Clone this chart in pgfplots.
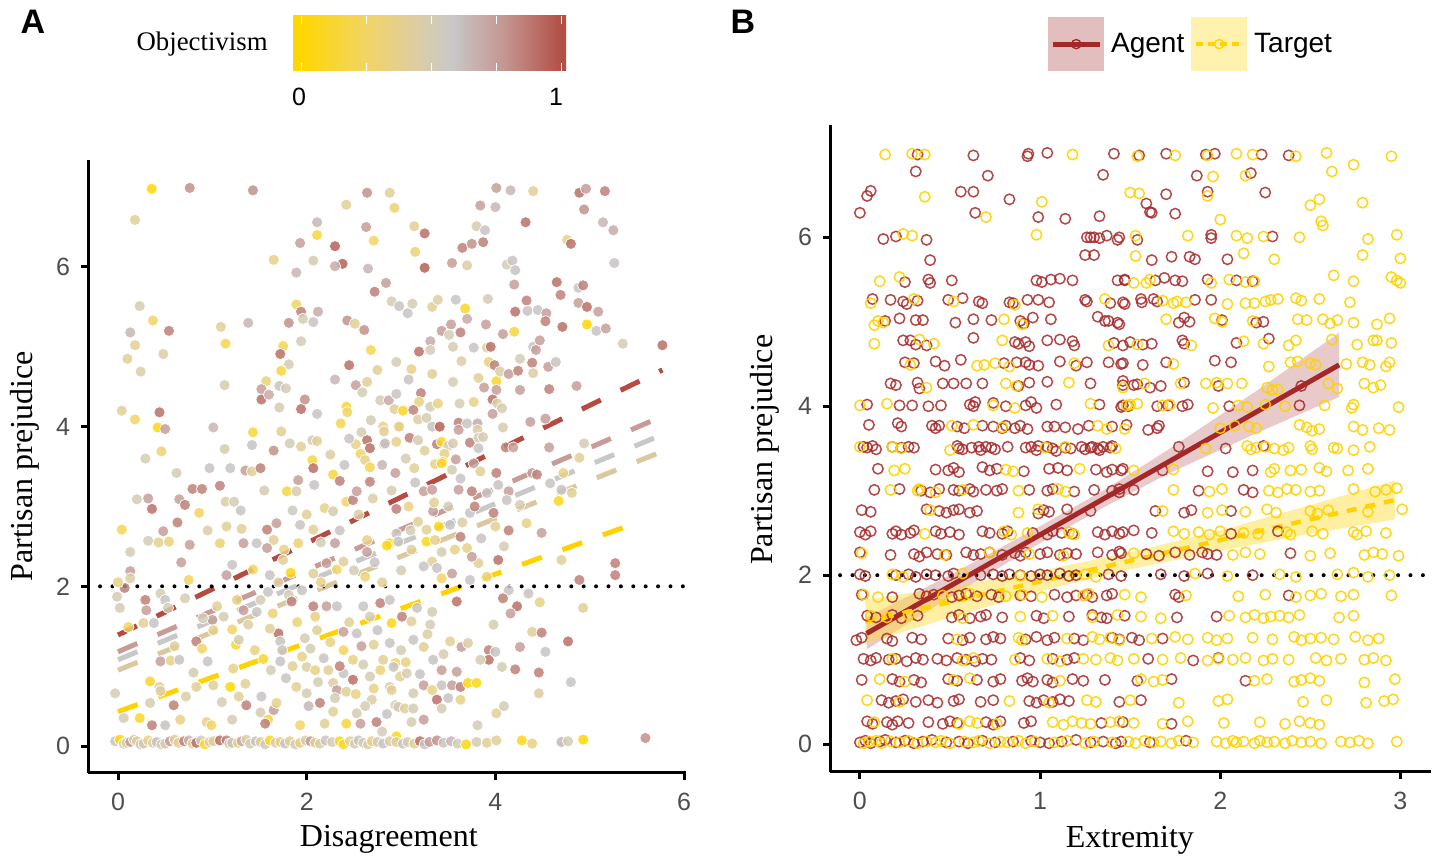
\documentclass[border=0pt]{standalone}
\usepackage{fontspec}
\setmainfont{Liberation Serif}
\setsansfont{Liberation Sans}
\usepackage{pgfplots}
\usepackage{pgfplotstable}
\pgfplotsset{compat=1.18}

\definecolor{tickgray}{RGB}{77,77,77}
\definecolor{cb0}{RGB}{255,215,0}
\definecolor{cb1}{RGB}{242,212,100}
\definecolor{cb2}{RGB}{220,205,165}
\definecolor{cb3}{RGB}{200,200,200}
\definecolor{cb4}{RGB}{196,150,145}
\definecolor{cb5}{RGB}{178,80,70}
\definecolor{agent}{RGB}{165,40,40}
\definecolor{target}{RGB}{255,210,0}
\definecolor{agentbox}{RGB}{226,190,190}
\definecolor{targetbox}{RGB}{255,242,175}
\definecolor{lred}{RGB}{181,75,65}
\definecolor{lpink}{RGB}{200,155,150}
\definecolor{lgray}{RGB}{200,200,200}
\definecolor{ltan}{RGB}{218,200,160}
\definecolor{lgold}{RGB}{255,210,0}

\pgfplotsset{
  colormap={obj}{rgb255(0cm)=(255,215,0) rgb255(25cm)=(242,212,100) rgb255(45cm)=(220,205,165) rgb255(58cm)=(200,200,200) rgb255(78cm)=(196,150,145) rgb255(100cm)=(178,80,70)},
  panel/.style={
    scale only axis,
    axis lines*=left,
    axis line style={line width=1.5pt,-},
    tick align=outside,
    major tick length=3.5pt,
    tick style={line width=1.5pt,black},
    tick label style={font=\sffamily\fontsize{12.5}{14}\selectfont,text=tickgray},
    xticklabel style={yshift=-3pt},
    yticklabel style={xshift=-2pt},
    /pgf/number format/assume math mode=true,
    label style={font=\fontsize{16}{18}\selectfont},
    clip=false,
  },
}

% panel A: disagreement, prejudice, objectivism
\pgfplotstableread{
x y c
0.357 6.98 0.0
0.76 6.99 0.8
1.43 6.96 0.8
2.64 6.93 0.8
2.88 6.93 0.4
2.42 6.78 0.4
2.93 6.74 0.3
0.18 6.59 0.4
2.11 6.56 0.65
2.11 6.40 0.15
2.63 6.50 0.75
2.71 6.33 0.25
1.93 6.30 0.75
2.30 6.26 0.95
2.38 6.04 0.95
2.30 6.01 0.7
1.65 6.09 0.35
2.07 6.08 0.5
1.89 5.93 0.65
2.65 5.98 0.65
2.84 5.80 0.75
2.72 5.69 0.85
2.90 5.57 0.5
0.23 5.51 0.5
0.37 5.33 0.25
0.54 5.20 0.85
0.13 5.18 0.65
0.18 5.02 0.4
0.10 4.85 0.4
0.48 4.91 0.45
0.24 4.69 0.45
1.09 5.25 0.4
1.14 5.04 0.2
1.38 5.30 0.65
1.89 5.53 0.25
1.94 5.44 0.85
2.12 5.44 0.7
1.96 5.35 0.5
2.07 5.31 0.6
1.81 5.30 0.8
2.43 5.33 0.8
2.51 5.29 0.4
2.61 5.21 0.8
2.68 4.96 0.2
1.94 5.07 0.5
1.75 5.01 0.2
1.72 4.91 0.9
1.81 4.78 0.5
1.73 4.70 0.15
2.45 4.77 0.9
2.75 4.71 0.4
2.95 4.81 0.5
1.13 4.52 0.5
1.57 4.57 0.3
1.52 4.47 0.75
1.52 4.34 0.9
1.60 4.40 0.7
1.71 4.51 0.6
1.78 4.48 0.5
2.30 4.59 0.65
2.52 4.52 0.75
2.64 4.56 0.4
2.59 4.43 0.5
1.98 4.34 0.8
1.94 4.22 0.9
1.71 4.24 0.5
2.11 4.16 0.6
2.78 4.33 0.5
2.87 4.33 0.7
2.95 4.41 0.6
2.93 4.22 0.4
2.42 4.25 0.15
2.43 4.18 0.25
2.36 4.04 0.2
2.68 4.08 0.5
2.81 4.00 0.35
2.97 4.00 0.35
2.58 3.93 0.5
2.64 3.83 0.9
2.67 3.73 0.9
2.82 3.78 0.75
2.52 3.78 0.35
2.57 3.66 0.25
2.62 3.58 0.35
2.67 3.49 0.2
2.80 3.52 0.65
2.95 3.81 0.35
0.04 4.20 0.4
0.18 4.09 0.25
0.44 4.18 0.9
0.42 3.99 0.05
0.50 3.97 0.75
0.46 3.69 0.3
0.29 3.60 0.5
1.01 3.99 0.65
1.13 3.72 0.5
1.43 3.93 0.15
1.73 3.94 0.4
1.42 3.77 0.6
1.65 3.70 0.8
1.82 3.79 0.5
1.94 3.75 0.4
2.06 3.83 0.5
2.11 3.82 0.4
2.06 3.58 0.15
2.07 3.48 0.9
2.40 3.52 0.6
4.01 6.99 0.75
4.16 6.96 0.65
4.40 6.95 0.4
4.89 6.93 0.9
4.96 6.98 0.75
5.16 6.95 0.85
3.84 6.77 0.75
4.00 6.75 0.65
4.94 6.72 0.8
3.14 6.51 0.4
3.25 6.42 0.9
3.80 6.51 0.5
3.89 6.46 0.6
4.32 6.56 0.9
5.14 6.56 0.65
5.25 6.46 0.7
3.15 6.19 0.3
3.65 6.24 0.85
3.75 6.29 0.8
3.87 6.31 0.85
4.76 6.34 0.35
4.80 6.29 0.9
3.25 5.99 0.95
3.54 6.05 0.75
3.70 6.02 0.45
4.12 6.03 0.5
4.18 6.08 0.6
4.21 5.96 0.6
5.26 6.05 0.6
4.20 5.78 0.75
4.65 5.81 0.9
4.69 5.65 0.85
4.88 5.74 0.6
4.93 5.77 0.85
2.98 5.51 0.6
3.07 5.42 0.6
3.12 5.54 0.5
3.33 5.50 0.4
3.39 5.59 0.45
3.58 5.59 0.6
3.68 5.48 0.1
3.70 5.35 0.7
3.92 5.60 0.5
4.33 5.58 0.85
4.21 5.44 0.9
4.34 5.45 0.6
4.45 5.46 0.6
4.54 5.42 0.75
4.53 5.32 0.85
4.71 5.25 0.9
4.88 5.55 0.75
4.97 5.50 0.9
4.97 5.28 0.0
5.09 5.44 0.75
5.07 5.20 0.6
5.17 5.23 0.75
5.35 5.04 0.5
5.77 5.02 0.9
3.43 5.20 0.75
3.53 5.28 0.75
3.51 5.15 0.5
3.63 5.18 0.85
3.90 5.28 0.75
4.08 5.16 0.75
4.20 5.19 0.15
3.31 5.07 0.7
3.31 4.96 0.5
3.19 4.94 0.9
3.55 5.00 0.5
3.77 4.99 0.6
3.91 4.99 0.4
3.95 5.00 0.9
4.40 5.00 0.6
4.47 5.08 0.75
4.43 4.96 0.75
3.11 4.72 0.35
3.08 4.59 0.6
3.33 4.66 0.4
3.64 4.82 0.45
3.55 4.56 0.5
3.82 4.61 0.4
3.93 4.81 0.3
3.99 4.77 0.85
4.01 4.57 0.1
4.05 4.69 0.45
4.14 4.66 0.75
4.24 4.70 0.85
4.26 4.85 0.5
4.39 4.80 0.85
4.40 4.67 0.45
4.56 4.75 0.75
4.64 4.81 0.6
3.88 4.49 0.75
4.01 4.46 0.75
4.26 4.46 0.75
4.57 4.47 0.85
4.86 4.51 0.75
3.21 4.42 0.85
3.19 4.31 0.35
3.02 4.20 0.1
3.13 4.21 0.85
3.31 4.25 0.5
3.39 4.29 0.35
3.62 4.29 0.5
3.77 4.31 0.35
3.97 4.34 0.9
4.02 4.29 0.45
4.07 4.23 0.5
3.97 4.16 0.75
3.18 4.09 0.45
3.27 4.11 0.5
3.33 4.00 0.6
3.41 4.00 0.95
3.61 4.05 0.85
3.61 3.96 0.75
3.70 4.04 0.6
3.81 4.04 0.7
3.81 3.96 0.45
4.08 3.99 0.5
4.37 4.06 0.75
4.53 4.10 0.75
2.98 4.00 0.35
3.09 3.86 0.85
3.18 3.83 0.5
3.38 3.78 0.85
3.43 3.81 0.1
3.50 3.76 0.5
3.55 3.79 0.5
3.73 3.80 0.85
3.82 3.86 0.5
3.87 3.87 0.5
3.82 3.73 0.6
4.11 3.74 0.85
4.19 3.74 0.75
4.57 3.74 0.75
4.94 3.79 0.5
4.89 3.61 0.4
3.46 3.66 0.35
3.44 3.56 0.05
3.36 3.53 0.35
3.58 3.59 0.75
3.77 3.54 0.75
2.83 3.79 0.6
2.82 3.94 0.4
0.62 3.42 0.5
0.32 3.10 0.75
0.36 2.97 0.9
0.20 3.09 0.5
0.65 3.09 0.75
0.71 3.02 0.85
0.79 3.22 0.85
0.89 3.22 0.85
1.08 3.26 0.85
0.97 3.48 0.6
1.19 3.48 0.6
1.35 3.45 0.75
1.42 3.44 0.4
1.51 3.48 0.85
1.14 3.06 0.45
1.23 3.06 0.5
0.86 2.92 0.25
0.04 2.71 0.2
0.13 2.43 0.5
0.32 2.57 0.5
0.43 2.55 0.4
0.54 2.56 0.3
0.48 2.69 0.75
0.63 2.80 0.85
0.76 2.52 0.75
0.67 2.30 0.75
0.13 2.19 0.75
0.13 2.10 0.45
0.07 1.98 0.85
0.00 2.05 0.35
0.75 2.08 0.25
1.08 2.54 0.3
1.15 2.75 0.4
1.31 2.72 0.4
1.33 2.54 0.75
1.47 2.54 0.6
1.58 2.71 0.85
1.65 2.58 0.4
1.68 2.79 0.75
1.79 3.19 0.15
1.91 3.33 0.75
1.89 3.19 0.5
2.08 3.27 0.6
1.93 2.77 0.6
2.07 2.71 0.4
1.91 2.54 0.3
1.76 2.46 0.35
1.58 2.48 0.75
1.21 2.27 0.6
1.15 2.14 0.75
1.43 2.21 0.25
1.61 2.14 0.6
1.75 2.33 0.4
1.83 2.17 0.05
2.07 2.16 0.4
2.21 2.29 0.75
2.30 2.54 0.75
2.32 2.21 0.25
2.39 2.31 0.4
2.42 3.06 0.25
2.49 3.08 0.85
2.53 3.19 0.75
2.67 3.31 0.85
2.19 2.98 0.35
2.28 2.94 0.5
2.28 3.40 0.15
2.35 3.32 0.85
2.64 2.43 0.75
2.64 2.58 0.35
2.62 2.12 0.3
2.88 2.54 0.1
2.95 2.66 0.6
-0.01 1.87 0.5
0.02 1.73 0.5
0.29 1.83 0.85
0.30 1.70 0.75
0.45 1.91 0.5
0.50 1.83 0.6
0.53 1.73 0.5
0.71 1.85 0.5
0.27 1.54 0.4
0.11 1.49 0.25
0.38 1.54 0.6
0.83 1.31 0.85
0.89 1.22 0.25
0.45 1.06 0.75
0.56 1.07 0.35
0.65 1.08 0.6
0.95 1.06 0.6
1.00 1.58 0.75
1.01 1.45 0.35
1.21 1.46 0.25
1.25 1.27 0.1
1.28 1.33 0.5
1.33 1.70 0.75
1.47 1.68 0.6
1.26 1.83 0.35
1.51 1.83 0.5
1.59 1.93 0.6
1.81 1.89 0.5
1.84 1.81 0.85
1.64 1.66 0.3
1.70 1.41 0.9
1.72 1.31 0.6
1.74 1.20 0.6
1.61 1.47 0.4
1.54 1.09 0.1
1.72 1.06 0.6
1.95 1.12 0.35
2.00 0.99 0.45
2.04 1.22 0.5
2.11 1.45 0.4
2.07 1.75 0.85
2.21 1.75 0.75
2.32 1.75 0.6
2.09 1.62 0.35
2.39 1.43 0.75
2.39 1.20 0.25
2.53 1.41 0.6
2.49 1.08 0.35
2.60 1.02 0.5
2.71 1.27 0.4
2.88 1.29 0.6
2.81 1.08 0.4
2.94 1.04 0.25
2.67 1.62 0.5
2.60 1.75 0.6
2.78 1.79 0.85
2.90 1.54 0.05
-0.03 0.66 0.5
0.34 0.81 0.1
0.44 0.74 0.4
0.45 0.69 0.45
0.34 0.54 0.5
0.59 0.51 0.85
0.06 0.35 0.5
0.23 0.35 0.1
0.36 0.26 0.85
0.50 0.26 0.6
0.66 0.33 0.35
0.83 0.74 0.4
1.01 0.76 0.4
1.19 0.74 0.0
1.35 0.78 0.4
1.22 0.97 0.35
1.52 0.62 0.6
1.36 0.51 0.85
1.51 0.42 0.5
1.65 0.45 0.75
1.59 0.33 0.1
1.56 0.28 0.85
1.68 0.54 0.35
0.94 0.30 0.35
0.99 0.26 0.25
1.21 0.33 0.5
1.89 0.74 0.4
1.93 0.26 0.25
2.00 0.66 0.5
2.09 0.95 0.35
2.14 0.54 0.85
2.19 0.28 0.4
2.28 0.79 0.45
2.32 0.70 0.75
2.23 0.95 0.4
2.39 0.91 0.6
2.42 0.68 0.4
2.28 0.43 0.4
2.42 0.28 0.15
2.53 0.41 0.5
2.57 0.28 0.75
2.49 0.83 0.9
2.67 0.87 0.5
2.69 0.58 0.45
2.74 0.30 0.85
2.80 0.18 0.5
2.71 0.72 0.35
2.88 0.74 0.45
2.94 0.51 0.5
2.95 0.12 0.05
2.94 3.42 0.75
3.14 3.48 0.4
3.43 3.54 0.1
3.54 3.46 0.5
3.63 3.35 0.6
4.01 3.42 0.85
4.03 3.27 0.6
3.84 3.44 0.4
3.24 3.19 0.75
3.33 3.21 0.75
3.61 3.21 0.75
3.75 3.19 0.85
3.91 3.17 0.6
4.14 3.19 0.75
4.39 3.42 0.75
4.44 3.40 0.85
4.58 3.29 0.6
4.70 3.21 0.6
4.81 3.17 0.4
4.72 3.42 0.35
4.67 3.07 0.05
2.95 2.97 0.85
3.08 3.00 0.35
3.18 2.81 0.4
3.34 2.94 0.75
3.40 2.75 0.05
3.27 2.71 0.4
3.52 2.77 0.6
3.63 2.62 0.85
3.73 2.92 0.6
3.78 3.00 0.85
3.98 2.92 0.85
4.12 3.08 0.6
4.26 3.02 0.5
4.14 2.70 0.85
4.33 2.79 0.35
4.49 2.67 0.75
4.09 2.50 0.5
3.82 2.29 0.4
4.03 2.33 0.9
2.85 2.51 0.05
2.97 2.56 0.6
3.11 2.46 0.4
3.27 2.56 0.05
3.36 2.58 0.35
3.43 2.43 0.5
3.57 2.46 0.35
3.70 2.48 0.35
3.75 2.37 0.75
3.33 2.31 0.4
3.24 2.25 0.6
3.38 2.23 0.6
3.54 2.16 0.75
3.43 2.10 0.25
3.73 2.08 0.6
3.91 2.12 0.3
4.70 2.33 0.4
5.27 2.29 0.85
5.27 2.14 0.85
4.89 2.08 0.85
2.88 1.83 0.6
3.17 1.73 0.6
3.01 1.62 0.85
3.11 1.56 0.4
3.31 1.52 0.5
3.33 1.68 0.5
3.59 1.81 0.9
4.14 1.95 0.6
4.08 1.85 0.85
4.23 1.75 0.9
4.16 1.66 0.75
4.35 1.91 0.6
4.47 1.80 0.35
4.93 1.73 0.4
3.98 1.52 0.5
3.13 1.33 0.6
3.24 1.24 0.4
3.52 1.31 0.4
3.64 1.24 0.75
3.71 1.29 0.45
3.93 1.20 0.85
3.93 1.08 0.9
4.00 1.18 0.6
4.26 1.24 0.75
4.39 1.43 0.4
4.49 1.42 0.85
4.53 1.18 0.6
4.77 1.31 0.9
3.84 1.08 0.5
4.07 0.99 0.5
4.21 0.96 0.85
4.46 0.92 0.85
3.43 0.95 0.75
3.59 0.93 0.75
3.34 1.08 0.6
2.92 0.99 0.6
2.99 0.87 0.4
3.06 0.91 0.5
3.24 0.76 0.75
3.43 0.76 0.6
3.54 0.76 0.75
3.63 0.74 0.85
3.71 0.79 0.05
3.80 0.79 0.05
3.33 0.70 0.35
3.38 0.58 0.9
3.63 0.58 0.35
3.13 0.66 0.5
2.90 0.70 0.4
2.97 0.49 0.5
3.04 0.47 0.4
3.13 0.47 0.5
3.24 0.33 0.75
3.11 0.30 0.5
3.43 0.47 0.5
3.81 0.26 0.5
4.01 0.41 0.4
4.09 0.50 0.5
4.46 0.66 0.45
4.80 0.80 0.6
1.05 1.75 0.4
1.12 1.62 0.5
1.38 1.52 0.45
1.45 1.20 0.35
1.62 0.95 0.5
1.78 0.85 0.6
1.85 1.00 0.4
1.90 1.55 0.3
1.98 1.35 0.5
2.02 0.50 0.65
2.12 0.80 0.5
2.18 1.10 0.6
2.25 1.30 0.35
2.30 0.60 0.5
2.35 1.00 0.85
2.45 1.55 0.4
2.52 0.65 0.35
2.58 1.25 0.75
2.62 0.50 0.5
2.75 1.45 0.6
2.78 0.95 0.3
2.85 0.40 0.6
3.00 1.20 0.5
3.05 1.05 0.35
3.20 0.90 0.6
3.28 1.40 0.45
3.45 1.15 0.5
3.50 0.60 0.6
1.10 0.55 0.5
1.28 0.62 0.4
0.72 0.62 0.45
0.80 0.92 0.5
0.60 1.25 0.4
0.90 1.60 0.5
1.70 2.05 0.45
1.95 1.95 0.6
2.15 2.05 0.35
2.50 2.20 0.5
2.72 2.30 0.6
2.80 2.05 0.4
3.00 2.20 0.5
3.10 2.70 0.5
2.55 2.90 0.45
2.35 2.70 0.6
2.15 2.55 0.5
2.00 2.90 0.4
1.85 2.95 0.55
2.70 3.10 0.45
2.90 3.20 0.5
3.15 3.30 0.6
3.35 3.05 0.4
3.50 3.00 0.5
3.65 2.80 0.45
3.85 2.60 0.6
4.00 2.75 0.4
2.25 3.65 0.45
2.45 3.85 0.6
3.05 3.60 0.5
3.25 3.70 0.4
1.55 3.20 0.5
1.30 2.95 0.6
0.95 2.70 0.45
-0.03 0.06 0.6
0.02 0.08 0.0
0.06 0.03 0.4
0.09 0.04 0.45
0.13 0.05 0.75
0.17 0.08 0.5
0.20 0.06 0.4
0.24 0.02 0.6
0.27 0.03 0.5
0.32 0.07 0.35
0.37 0.04 0.45
0.41 0.05 0.6
0.46 0.02 0.5
0.50 0.03 0.5
0.55 0.06 0.75
0.60 0.08 0.4
0.64 0.04 0.4
0.70 0.06 0.85
0.75 0.07 0.65
0.79 0.03 0.4
0.83 0.04 0.9
0.88 0.07 0.5
0.92 0.02 0.1
0.97 0.05 0.45
1.01 0.06 0.4
1.08 0.07 0.9
1.15 0.07 0.85
1.18 0.03 0.45
1.21 0.04 0.6
1.27 0.04 0.35
1.31 0.06 0.7
1.36 0.08 0.45
1.40 0.03 0.5
1.46 0.06 0.6
1.51 0.05 0.4
1.56 0.02 0.5
1.61 0.07 0.05
1.67 0.04 0.45
1.72 0.05 0.35
1.77 0.03 0.6
1.82 0.06 0.4
1.88 0.02 0.5
1.93 0.04 0.35
1.99 0.07 0.5
2.04 0.06 0.75
2.09 0.04 0.4
2.14 0.03 0.45
2.20 0.07 0.6
2.27 0.05 0.5
2.35 0.06 0.05
2.39 0.02 0.1
2.46 0.06 0.4
2.51 0.03 0.5
2.55 0.07 0.6
2.60 0.04 0.5
2.65 0.02 0.45
2.69 0.06 0.35
2.75 0.05 0.5
2.81 0.03 0.6
2.88 0.06 0.45
2.95 0.05 0.4
3.02 0.03 0.6
3.07 0.05 0.5
3.14 0.03 0.4
3.20 0.06 0.9
3.25 0.02 0.6
3.30 0.05 0.75
3.38 0.07 0.8
3.45 0.04 0.6
3.53 0.06 0.65
3.60 0.03 0.5
3.69 0.02 0.05
3.80 0.05 0.5
3.91 0.04 0.4
4.01 0.07 0.4
4.28 0.07 0.05
4.39 0.03 0.35
4.70 0.05 0.65
4.77 0.06 0.5
4.93 0.08 0.0
5.59 0.10 0.8
}\ptsA

\begin{document}
\begin{tikzpicture}
\path (0pt,0pt) rectangle (718.5pt,429pt);

% panel letters
\node[font=\sffamily\bfseries\fontsize{17}{19}\selectfont] at (16.5pt,418pt) {A};
\node[font=\sffamily\bfseries\fontsize{17}{19}\selectfont] at (371.5pt,418pt) {B};

% colourbar of panel A
\node[anchor=east,inner sep=0pt,font=\fontsize{13.4}{15}\selectfont] at (134pt,407pt) {Objectivism};
\shade[left color=cb0,right color=cb0] (146.5pt,393.5pt) rectangle (150.5pt,421pt);
\shade[left color=cb0,right color=cb1] (150.5pt,393.5pt) rectangle (183pt,421pt);
\shade[left color=cb1,right color=cb2] (183pt,393.5pt) rectangle (209pt,421pt);
\shade[left color=cb2,right color=cb3] (209pt,393.5pt) rectangle (225.9pt,421pt);
\shade[left color=cb3,right color=cb4] (225.9pt,393.5pt) rectangle (251.9pt,421pt);
\shade[left color=cb4,right color=cb5] (251.9pt,393.5pt) rectangle (280.5pt,421pt);
\shade[left color=cb5,right color=cb5] (280.5pt,393.5pt) rectangle (283pt,421pt);
\foreach \f in {0,0.25,0.5,0.75,1} {
  \draw[white,line width=0.5pt] ({150.5pt+\f*130pt},393.5pt) -- ++(0,4pt);
  \draw[white,line width=0.5pt] ({150.5pt+\f*130pt},421pt) -- ++(0,-4pt);
}
\node[font=\sffamily\fontsize{12.5}{14}\selectfont] at (149.5pt,380.5pt) {0};
\node[font=\sffamily\fontsize{12.5}{14}\selectfont] at (278pt,380.5pt) {1};

% ---------------- panel A ----------------
\begin{axis}[panel,
  at={(44pt,42.5pt)}, anchor=south west,
  width=299pt, height=306.5pt,
  xmin=-0.318, xmax=6.02, ymin=-0.338, ymax=7.34,
  xtick={0,2,4,6}, ytick={0,2,4,6},
  xlabel={Disagreement}, ylabel={Partisan prejudice},
  xlabel style={at={(axis description cs:0.503,-0.109)},anchor=center},
  ylabel style={at={(axis description cs:-0.105,0.5)},anchor=center},
  colormap name=obj, point meta min=0, point meta max=1,
]
\addplot[scatter, only marks, mark=*, mark size=2.8pt, point meta=explicit,
  scatter/use mapped color={draw=white, fill=mapped color},
  mark options={line width=0.35pt, fill opacity=0.85}]
  table[x=x, y=y, meta=c] {\ptsA};

\addplot[lred, line width=2.5pt, dash pattern=on 10.5pt off 11pt] coordinates {(0,1.39) (5.77,4.71)};
\addplot[lpink, line width=2.5pt, dash pattern=on 10.5pt off 11pt] coordinates {(0,1.18) (5.77,4.13)};
\addplot[lgray, line width=2.5pt, dash pattern=on 10.5pt off 11pt] coordinates {(0,1.08) (5.77,3.90)};
\addplot[ltan, line width=2.5pt, dash pattern=on 10.5pt off 11pt] coordinates {(0,0.95) (5.77,3.69)};
\addplot[lgold, line width=2.5pt, dash pattern=on 10.5pt off 11pt] coordinates {(0,0.43) (5.55,2.82)};
\addplot[black, line width=2pt, line cap=round, dash pattern=on 0pt off 6.2pt] coordinates {(-0.19,2) (6.0,2)};
\end{axis}

% ---------------- panel B ----------------
\begin{axis}[panel,
  at={(415pt,43pt)}, anchor=south west,
  width=300.5pt, height=323.5pt,
  xmin=-0.166, xmax=3.17, ymin=-0.33, ymax=7.33,
  xtick={0,1,2,3}, ytick={0,2,4,6},
  xlabel={Extremity}, ylabel={Partisan prejudice},
  xlabel style={at={(axis description cs:0.499,-0.105)},anchor=center},
  ylabel style={at={(axis description cs:-0.108,0.498)},anchor=center},
  legend style={at={(axis description cs:0.3627,1.125)}, anchor=west,
    draw=none, fill=none, inner sep=0pt, legend columns=2,
    font=\sffamily\fontsize{14}{16}\selectfont,
    nodes={inner sep=0pt}, column sep=3.5pt},
  legend cell align=left,
]
\addlegendimage{legend image code/.code={
  \fill[agentbox] (0pt,-13.25pt) rectangle (27.5pt,13.25pt);
  \draw[agent, line width=2.5pt] (2pt,0pt) -- (25.5pt,0pt);
  \draw[agent, line width=0.7pt] (13.75pt,0pt) circle (2.3pt);
}}
\addlegendentry{Agent}
\addlegendimage{legend image code/.code={
  \fill[targetbox] (0pt,-13.25pt) rectangle (27.5pt,13.25pt);
  \draw[target, line width=2.2pt, dash pattern=on 3.5pt off 2.5pt] (2pt,0pt) -- (25.5pt,0pt);
  \draw[target, line width=0.7pt] (13.75pt,0pt) circle (2.3pt);
}}
\addlegendentry{Target}

% agent points
\addplot[only marks, mark=o, mark size=2.6pt, agent, mark options={line width=0.75pt, draw opacity=0.85}] coordinates {
(0.32,6.98)(0.63,6.97)(0.93,6.96)(0.935,6.99)(1.04,7.0)(1.41,6.99)(1.55,6.97)(1.70,6.99)(1.92,6.98)(1.97,6.99)(2.23,6.98)(2.38,6.97)
(0.31,6.78)(0.71,6.73)(1.35,6.74)(1.87,6.73)(2.17,6.76)
(0.04,6.49)(0.06,6.55)(0.56,6.54)(0.63,6.54)(0.83,6.45)(1.59,6.40)(1.70,6.51)(1.93,6.54)(2.25,6.53)
(0.0,6.29)(0.64,6.29)(0.99,6.24)(1.14,6.22)(1.33,6.25)(1.61,6.30)(1.62,6.29)(1.75,6.28)
(0.13,5.98)(0.20,6.01)(0.37,5.97)(1.26,6.00)(1.28,6.00)(1.30,6.00)(1.33,5.99)(1.37,6.02)(1.43,5.97)(1.44,6.0)(1.54,5.97)(1.95,5.99)(1.95,6.03)(2.29,6.01)
(0.39,5.73)(1.25,5.79)(1.30,5.79)(1.62,5.73)(1.73,5.77)(1.83,5.77)(1.86,5.74)(2.04,5.74)
(0.25,5.47)(0.38,5.50)(0.39,5.46)(0.51,5.49)(0.98,5.49)(1.01,5.47)(1.06,5.50)(1.11,5.51)(1.18,5.49)(1.43,5.49)(1.47,5.49)(1.47,5.50)(1.64,5.49)(1.69,5.52)(1.75,5.49)(1.79,5.48)(1.93,5.50)(2.09,5.49)(2.18,5.48)
(0.07,5.27)(0.17,5.26)(0.24,5.24)(0.26,5.21)(0.32,5.25)(0.49,5.26)(0.57,5.28)(0.66,5.24)(0.68,5.22)(0.83,5.23)(0.85,5.22)(0.93,5.26)(0.99,5.26)(1.05,5.23)(1.25,5.26)(1.26,5.24)(1.39,5.22)(1.46,5.23)(1.47,5.21)(1.56,5.27)(1.565,5.23)(1.63,5.27)(1.65,5.24)(1.86,5.26)(1.95,5.26)
(0.14,5.01)(0.22,5.04)(0.31,5.02)(0.35,5.02)(0.53,4.99)(0.63,5.03)(0.73,5.02)(0.89,5.01)(0.91,4.98)(0.96,5.05)(1.06,5.03)(1.32,5.06)(1.36,5.01)(1.38,5.01)(1.43,4.99)(1.44,4.97)(1.77,4.99)(1.80,5.05)(1.83,5.00)(2.01,5.02)(2.20,4.99)(2.24,5.00)
(0.24,4.78)(0.28,4.78)(0.31,4.73)(0.37,4.72)(0.63,4.81)(0.86,4.76)(0.88,4.74)(0.92,4.76)(0.94,4.71)(1.04,4.78)(1.11,4.79)(1.18,4.77)(1.19,4.72)(1.41,4.75)(1.46,4.72)(1.50,4.76)(1.57,4.73)(1.62,4.74)(1.79,4.78)(1.80,4.74)(2.09,4.75)(2.27,4.80)
(0.25,4.52)(0.30,4.51)(0.42,4.53)(0.47,4.48)(0.56,4.55)(0.80,4.51)(0.87,4.52)(0.92,4.52)(0.94,4.49)(0.99,4.48)(1.11,4.53)(1.20,4.48)(1.26,4.52)(1.38,4.52)(1.45,4.50)(1.46,4.51)(1.57,4.49)(1.70,4.52)(1.97,4.54)(2.06,4.52)
(0.17,4.27)(0.20,4.25)(0.32,4.28)(0.33,4.21)(0.46,4.27)(0.52,4.27)(0.59,4.27)(0.68,4.27)(0.88,4.24)(0.94,4.28)(1.04,4.29)(1.28,4.27)(1.46,4.25)(1.46,4.30)(1.52,4.25)(1.54,4.26)(1.61,4.22)(1.67,4.24)(1.80,4.28)(1.99,4.24)(2.45,4.24)
(0.04,4.02)(0.22,4.01)(0.29,4.01)(0.38,4.0)(0.45,4.01)(0.61,4.02)(0.63,4.00)(0.64,4.05)(0.74,4.04)(0.81,4.00)(0.92,4.01)(0.95,4.05)(0.98,3.98)(1.09,4.02)(1.33,4.02)(1.45,3.99)(1.49,4.0)(1.46,4.01)(1.65,4.00)(1.71,4.01)(1.79,4.00)(1.82,4.02)(2.05,4.00)(2.44,4.01)
(0.05,3.78)(0.21,3.80)(0.23,3.76)(0.40,3.77)(0.42,3.74)(0.44,3.77)(0.54,3.76)(0.58,3.74)(0.68,3.77)(0.74,3.76)(0.79,3.74)(0.81,3.77)(0.86,3.74)(0.89,3.77)(0.93,3.73)(1.04,3.76)(1.08,3.76)(1.14,3.75)(1.21,3.73)(1.27,3.77)(1.40,3.76)(1.48,3.78)(1.60,3.72)(1.65,3.74)(1.66,3.77)
(0.02,3.52)(0.04,3.51)(0.07,3.53)(0.09,3.49)(0.18,3.52)(0.23,3.51)(0.27,3.52)(0.30,3.51)(0.54,3.53)(0.55,3.50)(0.57,3.49)(0.62,3.51)(0.66,3.52)(0.67,3.48)(0.70,3.52)(0.73,3.51)(0.75,3.49)(0.82,3.52)(0.92,3.51)(0.95,3.52)(0.98,3.48)(0.99,3.53)(1.04,3.52)(1.07,3.50)(1.09,3.47)(1.14,3.51)(1.17,3.50)(1.23,3.52)(1.25,3.49)(1.28,3.51)(1.29,3.52)(1.32,3.50)(1.33,3.48)(1.35,3.52)(1.39,3.51)(1.40,3.53)(1.77,3.52)(2.03,3.50)(2.24,3.53)
(0.10,3.26)(0.42,3.25)(0.49,3.24)(0.52,3.27)(0.55,3.22)(0.68,3.28)(0.72,3.24)(0.76,3.26)(0.91,3.23)(1.05,3.26)(1.10,3.27)(1.15,3.24)(1.31,3.25)(1.37,3.22)(1.40,3.25)(1.45,3.24)(1.46,3.26)(1.68,3.24)(1.93,3.23)(2.07,3.22)(2.18,3.24)
(0.08,3.01)(0.22,3.02)(0.34,3.00)(0.39,2.98)(0.44,3.02)(0.52,3.01)(0.55,3.00)(0.61,3.02)(0.63,2.99)(0.70,3.01)(0.76,3.00)(0.79,3.02)(0.94,3.01)(1.04,3.00)(1.07,3.02)(1.19,2.99)(1.30,3.01)(1.40,3.00)(1.44,3.02)(1.44,2.98)(1.52,3.01)(1.88,3.00)(2.13,3.01)(2.18,2.98)
(0.01,2.77)(0.06,2.75)(0.37,2.78)(0.44,2.76)(0.48,2.74)(0.52,2.77)(0.55,2.78)(0.61,2.74)(0.65,2.76)(0.99,2.73)(1.02,2.77)(1.05,2.75)(1.15,2.78)(1.28,2.76)(1.64,2.76)(1.80,2.74)(1.84,2.77)(2.06,2.76)
(0.0,2.51)(0.03,2.48)(0.06,2.52)(0.18,2.49)(0.20,2.52)(0.23,2.48)(0.28,2.50)(0.30,2.53)(0.42,2.52)(0.45,2.49)(0.50,2.51)(0.55,2.48)(0.68,2.52)(0.72,2.50)(0.79,2.49)(0.82,2.52)(0.96,2.50)(1.04,2.48)(1.07,2.52)(1.12,2.50)(1.18,2.49)(1.32,2.51)(1.36,2.48)(1.40,2.52)(1.44,2.49)(1.46,2.51)(1.52,2.53)(1.62,2.50)(2.06,2.49)(2.32,2.52)
(0.0,2.27)(0.17,2.24)(0.30,2.25)(0.33,2.22)(0.37,2.27)(0.43,2.25)(0.48,2.24)(0.59,2.27)(0.63,2.24)(0.67,2.25)(0.72,2.27)(0.79,2.24)(0.86,2.26)(0.89,2.23)(0.92,2.27)(1.00,2.25)(1.04,2.27)(1.11,2.24)(1.15,2.26)(1.20,2.25)(1.32,2.27)(1.40,2.24)(1.45,2.26)(1.44,2.28)(1.59,2.25)(1.66,2.23)(1.75,2.27)(1.83,2.24)(1.90,2.27)(1.93,2.25)(1.98,2.24)(2.39,2.26)
(0.0,2.01)(0.03,1.99)(0.20,2.0)(0.27,2.01)(0.31,1.98)(0.37,2.01)(0.42,2.00)(0.49,1.99)(0.52,2.02)(0.67,2.00)(0.74,2.01)(0.79,1.99)(0.83,2.01)(0.89,2.00)(0.95,1.99)(1.00,2.01)(1.04,2.00)(1.11,2.02)(1.16,1.99)(1.20,2.00)(1.38,2.01)(1.45,1.99)(1.67,2.01)(1.80,1.99)(1.93,2.02)(2.18,2.0)
(0.01,1.77)(0.18,1.74)(0.33,1.78)(0.37,1.75)(0.41,1.77)(0.51,1.74)(0.55,1.76)(0.59,1.78)(0.65,1.75)(0.73,1.77)(0.77,1.74)(0.89,1.76)(0.95,1.75)(1.08,1.77)(1.15,1.74)(1.20,1.76)(1.26,1.77)(1.29,1.74)(1.37,1.76)(1.40,1.78)(1.75,1.77)(1.77,1.74)(2.38,1.76)
(0.04,1.52)(0.09,1.50)(0.18,1.53)(0.23,1.49)(0.32,1.52)(0.51,1.50)(0.55,1.53)(0.61,1.49)(0.67,1.51)(0.70,1.53)(0.79,1.50)(0.98,1.52)(1.02,1.49)(1.16,1.51)(1.29,1.53)(1.34,1.50)(1.37,1.49)(1.47,1.52)(1.76,1.50)(1.98,1.51)
(-0.02,1.23)(0.01,1.26)(0.15,1.25)(0.18,1.22)(0.29,1.26)(0.34,1.24)(0.49,1.25)(0.57,1.23)(0.61,1.26)(0.70,1.24)(0.74,1.27)(0.78,1.25)(0.92,1.24)(0.98,1.27)(1.04,1.23)(1.08,1.26)(1.19,1.25)(1.24,1.23)(1.40,1.26)(1.44,1.24)(1.51,1.26)(1.55,1.23)(1.68,1.25)
(0.02,1.01)(0.06,0.99)(0.09,1.02)(0.16,1.00)(0.20,1.01)(0.26,0.98)(0.31,1.02)(0.35,1.00)(0.43,1.01)(0.48,0.99)(0.54,1.02)(0.59,1.00)(0.64,0.98)(0.68,1.01)(0.73,1.00)(0.89,1.02)(0.94,0.99)(1.07,1.01)(1.15,1.00)(1.19,1.02)(1.60,1.01)(1.85,0.99)(1.99,1.02)
(0.01,0.76)(0.18,0.77)(0.22,0.74)(0.30,0.76)(0.34,0.73)(0.49,0.77)(0.54,0.75)(0.65,0.76)(0.74,0.74)(0.78,0.77)(0.90,0.75)(0.93,0.78)(0.96,0.74)(1.04,0.76)(1.07,0.73)(1.18,0.77)(1.24,0.75)(1.36,0.76)(1.54,0.75)(1.73,0.77)(2.14,0.75)
(0.12,0.52)(0.16,0.49)(0.20,0.51)(0.24,0.53)(0.31,0.50)(0.38,0.52)(0.43,0.49)(0.52,0.51)(0.55,0.53)(0.67,0.50)(0.74,0.52)(0.94,0.51)(0.98,0.49)(1.02,0.52)(1.07,0.50)(1.11,0.53)(1.16,0.51)(1.44,0.50)(1.56,0.52)
(0.04,0.27)(0.07,0.24)(0.15,0.26)(0.18,0.23)(0.21,0.27)(0.27,0.25)(0.38,0.26)(0.46,0.24)(0.50,0.27)(0.54,0.25)(0.70,0.26)(0.74,0.23)(0.78,0.27)(0.91,0.25)(0.95,0.27)(1.34,0.25)(1.46,0.26)(1.73,0.24)
(0.0,0.02)(0.03,0.04)(0.06,0.01)(0.11,0.03)(0.14,0.05)(0.20,0.02)(0.25,0.04)(0.30,0.01)(0.35,0.03)(0.40,0.05)(0.48,0.02)(0.55,0.03)(0.60,0.01)(0.68,0.04)(0.75,0.02)(0.85,0.03)(0.95,0.04)(1.00,0.02)(1.05,0.01)(1.12,0.03)(1.20,0.05)(1.28,0.02)(1.35,0.03)(1.42,0.01)(1.45,0.03)(1.61,0.02)(1.81,0.04)
};

% target points
\addplot[only marks, mark=o, mark size=2.6pt, target, mark options={line width=0.75pt, draw opacity=0.9}] coordinates {
(0.14,6.98)(0.29,6.99)(0.36,6.98)(1.18,6.98)(1.54,6.96)(1.75,6.97)(1.93,6.97)(2.09,6.99)(2.18,6.98)(2.42,6.96)(2.59,7.0)(2.95,6.96)
(1.96,6.72)(2.14,6.73)(2.62,6.78)(2.74,6.86)
(0.36,6.48)(1.01,6.42)(1.50,6.53)(1.55,6.52)(1.93,6.49)(2.50,6.38)(2.55,6.45)(2.79,6.41)
(0.70,6.24)(2.0,6.21)(2.56,6.19)(2.57,6.14)
(0.24,6.04)(0.29,6.02)(0.98,6.03)(1.53,6.02)(1.82,6.02)(2.09,6.02)(2.15,5.99)(2.24,6.01)(2.44,6.00)(2.82,5.98)(2.98,6.03)
(1.53,5.78)(2.13,5.81)(2.30,5.74)(2.79,5.79)(3.0,5.75)
(0.11,5.48)(0.22,5.53)(1.52,5.46)(1.59,5.46)(1.61,5.50)(1.95,5.46)(2.05,5.50)(2.14,5.47)(2.19,5.48)(2.63,5.55)(2.74,5.48)(2.95,5.53)(2.98,5.49)(3.0,5.46)
(0.06,5.22)(0.30,5.27)(0.52,5.24)(0.86,5.20)(1.36,5.27)(1.68,5.25)(1.74,5.22)(1.76,5.24)(1.81,5.23)(2.04,5.21)(2.14,5.22)(2.19,5.22)(2.25,5.24)(2.28,5.26)(2.32,5.27)(2.42,5.28)(2.45,5.25)(2.55,5.27)(2.72,5.23)
(0.08,4.96)(0.10,5.01)(0.13,4.99)(0.80,5.03)(0.90,4.97)(1.70,5.03)(1.97,5.04)(2.01,5.00)(2.18,5.01)(2.43,5.03)(2.48,5.02)(2.57,5.03)(2.61,4.98)(2.65,5.02)(2.74,4.99)(2.87,4.97)(2.94,5.04)
(0.08,4.74)(0.33,4.79)(0.41,4.74)(0.79,4.78)(1.38,4.72)(1.54,4.73)(1.84,4.72)(2.13,4.77)(2.24,4.74)(2.38,4.72)(2.42,4.78)(2.62,4.79)(2.76,4.73)(2.85,4.78)(2.87,4.78)(2.95,4.75)
(0.28,4.49)(0.65,4.48)(0.69,4.49)(0.75,4.51)(0.83,4.47)(1.19,4.51)(1.74,4.50)(2.27,4.47)(2.39,4.52)(2.43,4.53)(2.50,4.51)(2.53,4.49)(2.70,4.50)(2.79,4.52)(2.83,4.49)(2.92,4.47)(2.94,4.52)
(0.37,4.22)(0.81,4.27)(0.87,4.24)(1.16,4.28)(1.46,4.22)(1.58,4.27)(1.78,4.27)(1.92,4.27)(1.98,4.28)(2.04,4.27)(2.12,4.27)(2.26,4.22)(2.29,4.19)(2.32,4.20)(2.60,4.27)(2.65,4.21)(2.80,4.27)(2.85,4.22)(2.89,4.25)
(0.0,4.01)(0.15,4.03)(0.74,4.01)(0.86,3.98)(1.28,4.03)(1.48,4.01)(1.50,4.02)(1.54,4.03)(1.68,4.01)(1.72,4.02)(1.96,3.98)(2.10,4.01)(2.15,3.99)(2.25,4.02)(2.36,4.00)(2.58,4.01)(2.73,3.98)(2.74,4.02)(2.99,3.99)
(0.51,3.77)(0.63,3.78)(0.79,3.75)(1.32,3.77)(1.37,3.73)(1.47,3.73)(2.0,3.74)(2.08,3.77)(2.16,3.76)(2.20,3.74)(2.44,3.78)(2.48,3.75)(2.51,3.71)(2.55,3.73)(2.74,3.76)(2.79,3.72)(2.88,3.74)(2.94,3.72)
(0.0,3.52)(0.18,3.52)(0.23,3.50)(0.50,3.48)(1.03,3.51)(1.14,3.52)(1.42,3.50)(1.92,3.50)(2.15,3.53)(2.17,3.49)(2.20,3.51)(2.25,3.52)(2.30,3.50)(2.35,3.48)(2.38,3.51)(2.50,3.53)(2.51,3.49)(2.63,3.51)(2.65,3.50)(2.74,3.48)(2.83,3.52)
(0.19,3.24)(0.25,3.26)(0.81,3.25)(0.85,3.23)(1.22,3.26)(1.52,3.24)(1.74,3.25)(2.28,3.22)(2.30,3.26)(2.39,3.24)(2.45,3.25)(2.55,3.27)(2.59,3.23)(2.71,3.24)(2.82,3.26)
(0.17,3.01)(0.32,3.00)(0.33,3.02)(0.42,2.98)(0.57,3.01)(0.88,3.00)(1.10,3.02)(1.14,2.99)(1.74,3.01)(1.94,2.99)(2.01,3.02)(2.27,3.00)(2.32,2.98)(2.37,3.02)(2.42,3.01)(2.50,2.99)(2.55,3.00)(2.74,3.02)(2.86,2.99)(2.92,3.01)(2.98,3.03)
(0.39,2.77)(0.88,2.74)(0.99,2.78)(1.68,2.76)(1.93,2.74)(2.01,2.77)(2.14,2.75)(2.26,2.78)(2.31,2.74)(2.50,2.76)(2.54,2.73)(2.60,2.77)(2.82,2.75)(3.01,2.78)
(0.36,2.49)(0.80,2.52)(0.84,2.48)(0.93,2.50)(1.16,2.51)(1.19,2.48)(1.74,2.52)(1.80,2.49)(1.88,2.51)(1.94,2.48)(2.00,2.52)(2.13,2.50)(2.21,2.49)(2.37,2.51)(2.39,2.48)(2.51,2.52)(2.57,2.49)(2.74,2.51)(2.76,2.48)(2.81,2.52)(2.92,2.50)
(0.01,2.26)(0.47,2.24)(0.72,2.27)(0.94,2.25)(1.13,2.23)(1.52,2.26)(2.07,2.24)(2.14,2.27)(2.22,2.25)(2.50,2.23)(2.61,2.26)(2.80,2.24)(2.85,2.27)(2.90,2.25)(2.99,2.23)
(0.18,2.01)(0.24,1.98)(0.57,2.02)(0.89,1.99)(1.25,2.01)(1.31,1.98)(1.86,2.02)(2.04,1.99)(2.33,2.01)(2.42,1.98)(2.65,2.01)(2.74,2.03)(2.82,1.98)(2.94,2.0)
(0.02,1.77)(0.10,1.74)(0.46,1.76)(0.61,1.78)(0.81,1.75)(0.90,1.77)(1.01,1.74)(1.24,1.76)(1.27,1.78)(1.47,1.77)(1.56,1.74)(1.81,1.76)(2.10,1.75)(2.25,1.77)(2.42,1.74)(2.50,1.76)(2.56,1.78)(2.67,1.75)(2.74,1.77)(2.95,1.76)
(0.06,1.52)(0.15,1.50)(0.27,1.53)(0.57,1.49)(0.89,1.51)(1.07,1.52)(1.29,1.50)(1.43,1.53)(1.56,1.51)(1.67,1.49)(2.05,1.52)(2.14,1.50)(2.19,1.53)(2.24,1.49)(2.28,1.51)(2.33,1.52)(2.38,1.50)(2.44,1.53)(2.66,1.50)(2.74,1.52)
(0.54,1.24)(0.88,1.26)(0.90,1.23)(1.15,1.25)(1.29,1.27)(1.33,1.24)(1.39,1.26)(1.44,1.23)(1.62,1.25)(1.75,1.27)(1.82,1.24)(1.93,1.26)(1.98,1.23)(2.04,1.25)(2.18,1.26)(2.29,1.24)(2.41,1.27)(2.45,1.23)(2.50,1.25)(2.56,1.26)(2.63,1.24)(2.75,1.27)(2.82,1.23)(2.88,1.25)
(0.18,1.01)(0.57,0.99)(0.63,1.02)(0.86,1.00)(1.04,1.01)(1.11,0.98)(1.24,1.01)(1.31,1.00)(1.39,1.02)(1.43,0.99)(1.52,1.01)(1.68,1.00)(1.78,1.02)(1.93,0.99)(1.99,1.01)(2.07,1.00)(2.14,1.02)(2.24,0.99)(2.29,1.01)(2.38,1.00)(2.53,1.02)(2.59,0.99)(2.67,1.01)(2.80,1.00)(2.85,1.02)(2.92,0.99)
(0.11,0.77)(0.25,0.74)(0.52,0.76)(0.61,0.78)(1.11,0.75)(1.56,0.77)(1.63,0.74)(1.68,0.76)(2.19,0.75)(2.26,0.77)(2.41,0.74)(2.45,0.76)(2.50,0.78)(2.55,0.75)(2.80,0.73)(2.97,0.77)
(0.04,0.52)(0.22,0.50)(0.83,0.51)(1.05,0.49)(1.26,0.52)(1.31,0.50)(1.50,0.52)(1.77,0.49)(1.99,0.51)(2.04,0.53)(2.46,0.50)(2.59,0.52)(2.81,0.49)(2.91,0.51)(2.96,0.53)
(0.08,0.26)(0.55,0.24)(0.61,0.27)(0.65,0.25)(0.76,0.24)(1.07,0.26)(1.13,0.23)(1.18,0.27)(1.23,0.25)(1.28,0.24)(1.39,0.26)(1.44,0.27)(1.52,0.25)(1.68,0.24)(1.82,0.27)(2.02,0.25)(2.22,0.26)(2.36,0.24)(2.44,0.27)(2.50,0.25)(2.55,0.23)
(0.02,0.01)(0.05,0.03)(0.09,0.04)(0.12,0.01)(0.17,0.03)(0.22,0.02)(0.27,0.04)(0.32,0.01)(0.37,0.03)(0.42,0.02)(0.45,0.04)(0.50,0.01)(0.58,0.03)(0.63,0.02)(0.66,0.04)(0.72,0.01)(0.78,0.03)(0.82,0.02)(0.88,0.04)(0.92,0.01)(0.97,0.03)(1.08,0.02)(1.15,0.04)(1.25,0.01)(1.30,0.03)(1.40,0.02)(1.49,0.03)(1.53,0.01)(1.58,0.04)(1.63,0.02)(1.67,0.03)(1.73,0.01)(1.77,0.04)(1.85,0.02)(1.98,0.03)(2.03,0.01)(2.07,0.04)(2.09,0.02)(2.13,0.03)(2.19,0.01)(2.22,0.04)(2.26,0.02)(2.30,0.03)(2.36,0.01)(2.40,0.04)(2.45,0.02)(2.50,0.03)(2.56,0.01)(2.67,0.03)(2.72,0.02)(2.77,0.04)(2.82,0.01)(2.98,0.03)
};

% confidence bands and fitted lines
\addplot[draw=none, fill=agent!70!white, fill opacity=0.35] coordinates {
(0.037,1.50)(0.5,2.00)(1.0,2.58)(1.35,3.00)(1.7,3.47)(2.2,4.18)(2.66,4.87)
(2.66,4.11)(2.2,3.68)(1.7,3.19)(1.35,2.80)(1.0,2.38)(0.5,1.74)(0.037,1.12)} --cycle;
\addplot[draw=none, fill=target!80!white, fill opacity=0.45] coordinates {
(0.03,1.71)(0.5,1.86)(1.0,2.05)(1.5,2.27)(2.0,2.53)(2.5,2.83)(2.97,3.12)
(2.97,2.66)(2.5,2.49)(2.0,2.29)(1.5,2.07)(1.0,1.81)(0.5,1.50)(0.03,1.19)} --cycle;
\addplot[agent, line width=2.5pt] coordinates {(0.037,1.31) (2.66,4.49)};
\addplot[target, line width=2.2pt, dash pattern=on 5pt off 4.5pt] coordinates {(0.03,1.45) (2.97,2.89)};
\addplot[black, line width=2pt, line cap=round, dash pattern=on 0pt off 6.2pt] coordinates {(-0.11,2) (3.14,2)};
\end{axis}
\end{tikzpicture}
\end{document}
